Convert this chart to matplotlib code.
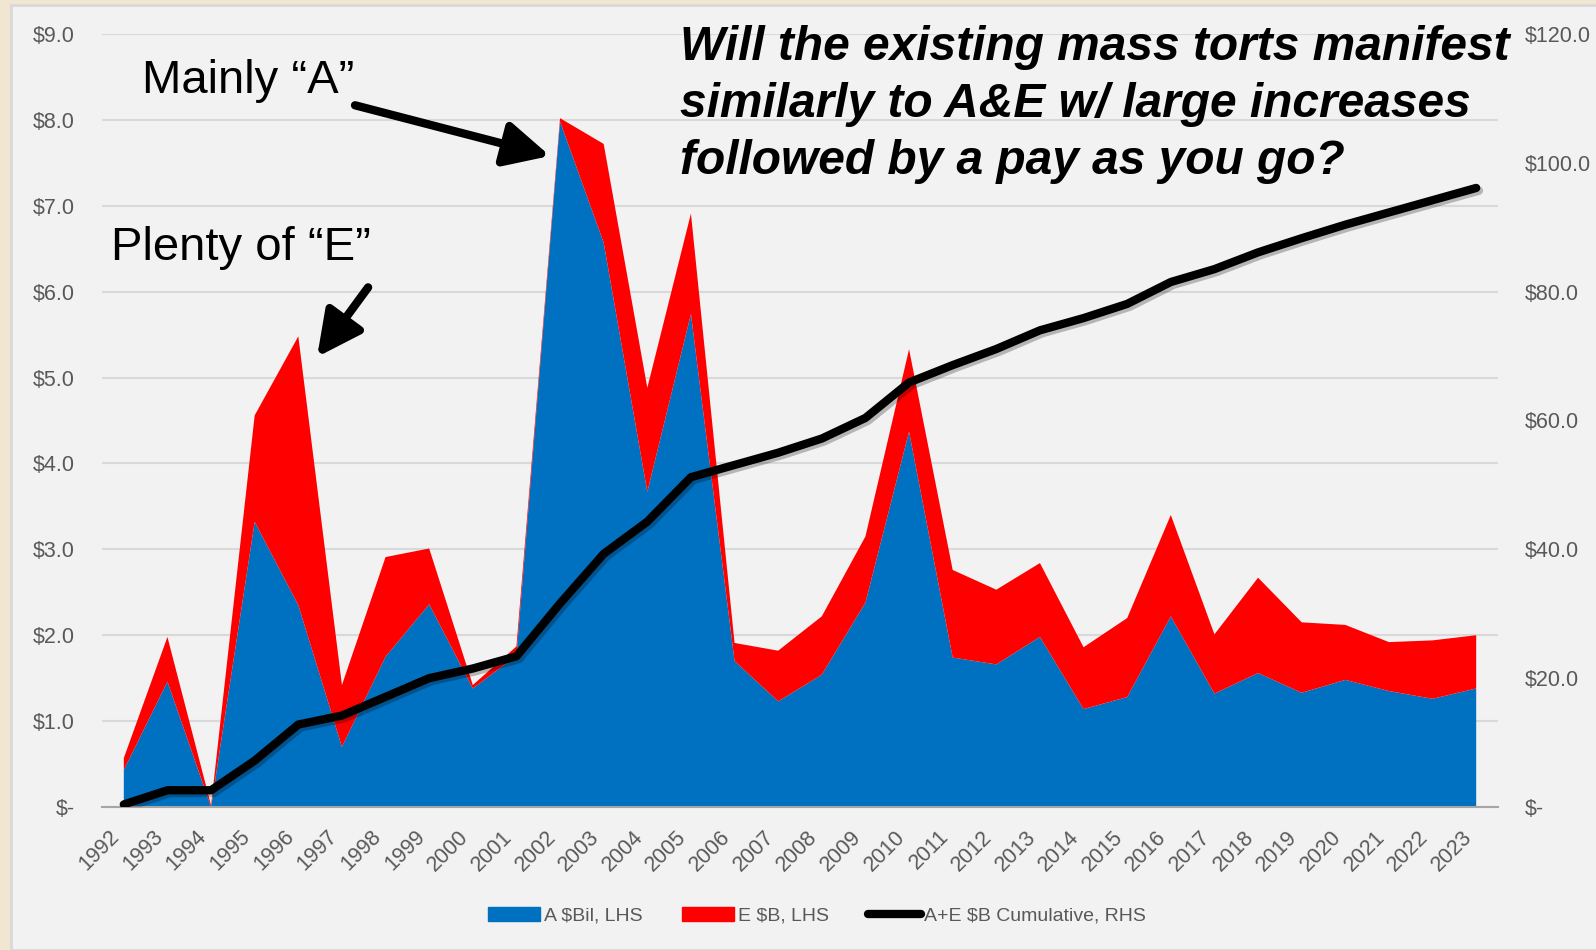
import numpy as np
import matplotlib
matplotlib.use("Agg")
import matplotlib.pyplot as plt
import matplotlib.patheffects as pe
from matplotlib.patches import Patch, Rectangle
from matplotlib.lines import Line2D
from matplotlib.ticker import FuncFormatter, MultipleLocator

plt.rcParams['font.family'] = ['Liberation Sans', 'DejaVu Sans']

years = [str(y) for y in range(1992, 2024)]
a_vals = [0.43, 1.46, 0.00, 3.32, 2.35, 0.70, 1.75, 2.36, 1.38, 1.76,
          7.98, 6.57, 3.67, 5.74, 1.70, 1.23, 1.54, 2.38, 4.37, 1.74,
          1.66, 1.98, 1.14, 1.28, 2.22, 1.32, 1.56, 1.33, 1.48, 1.35,
          1.26, 1.38]
e_vals = [0.14, 0.52, 0.02, 1.24, 3.13, 0.72, 1.16, 0.65, 0.04, 0.11,
          0.04, 1.15, 1.21, 1.17, 0.21, 0.59, 0.68, 0.77, 0.96, 1.02,
          0.87, 0.86, 0.72, 0.92, 1.18, 0.69, 1.11, 0.82, 0.64, 0.57,
          0.68, 0.62]
cumulative = [0.4, 2.6, 2.6, 7.2, 12.8, 14.2, 17.1, 20.0, 21.5, 23.4,
              31.6, 39.3, 44.3, 51.2, 53.1, 55.0, 57.2, 60.4, 65.9, 68.6,
              71.1, 74.0, 75.9, 78.1, 81.5, 83.5, 86.1, 88.3, 90.4, 92.3,
              94.2, 96.1]

blue = '#0070C0'
red = '#FF0000'
gray_txt = '#595959'

fig = plt.figure(figsize=(15.96, 9.5), dpi=100, facecolor='#F0E6D2')
fig.add_artist(Rectangle((11 / 1596, 0), 1, 1 - 5 / 950, transform=fig.transFigure,
                         facecolor='#F2F2F2', edgecolor='#D9D9D9', lw=2, zorder=-10))

ax = fig.add_axes([102 / 1596, 1 - 807 / 950, 1396 / 1596, 773 / 950])
ax.set_facecolor('none')
x = np.arange(len(years))

ax.stackplot(x, a_vals, e_vals, colors=[blue, red], linewidth=0)
ax.set_xlim(-0.5, len(years) - 0.5)
ax.set_ylim(0, 9)
ax.yaxis.set_major_locator(MultipleLocator(1))
ax.yaxis.set_major_formatter(FuncFormatter(lambda v, p: '$-' if v == 0 else f'${v:.1f}'))
ax.grid(axis='y', color='#D9D9D9', lw=1.5)
ax.set_axisbelow(True)
for s in ['top', 'left', 'right']:
    ax.spines[s].set_visible(False)
ax.spines['bottom'].set_color('#A6A6A6')
ax.spines['bottom'].set_linewidth(1.5)
ax.tick_params(axis='y', length=0, pad=19.5, labelsize=15.5, labelcolor=gray_txt)
ax.set_xticks(x)
ax.set_xticklabels(years, rotation=45, ha='right', va='top', rotation_mode='default')
ax.tick_params(axis='x', length=0, pad=14, labelsize=15.5, labelcolor=gray_txt)

ax2 = ax.twinx()
ax2.plot(x, cumulative, color='black', lw=6, solid_capstyle='round', solid_joinstyle='round',
         path_effects=[pe.SimpleLineShadow(offset=(2, -2), alpha=0.25), pe.Normal()])
ax2.set_ylim(0, 120)
ax2.yaxis.set_major_locator(MultipleLocator(20))
ax2.yaxis.set_major_formatter(FuncFormatter(lambda v, p: '$-' if v == 0 else f'${v:.1f}'))
ax2.tick_params(axis='y', length=0, pad=19.5, labelsize=15.5, labelcolor=gray_txt)
for s in ax2.spines.values():
    s.set_visible(False)

# annotations
arrow = dict(arrowstyle='-|>,head_length=0.9,head_width=0.45', lw=6, color='black',
             mutation_scale=30, shrinkA=0, shrinkB=0)
ax.text(2.84, 8.45, 'Mainly \u201cA\u201d', fontsize=34, ha='center', va='center')
ax.annotate('', xy=(9.77, 7.58), xytext=(5.30, 8.17), arrowprops=arrow)
ax.text(2.68, 6.51, 'Plenty of \u201cE\u201d', fontsize=34, ha='center', va='center')
ax.annotate('', xy=(4.43, 5.24), xytext=(5.60, 6.05), arrowprops=arrow)

fig.text(680 / 1596, 1 - 25 / 950,
         'Will the existing mass torts manifest\nsimilarly to A&E w/ large increases\nfollowed by a pay as you go?',
         fontsize=34.5, fontweight='bold', fontstyle='italic', ha='left', va='top',
         linespacing=1.35)

handles = [Patch(color=blue), Patch(color=red),
           Line2D([0], [0], color='black', lw=6, solid_capstyle='round')]
fig.legend(handles, ['A $Bil, LHS', 'E $B, LHS', 'A+E $B Cumulative, RHS'],
           loc='center', bbox_to_anchor=(0.512, 34 / 950), ncol=3, frameon=False,
           handlelength=2.7, handletextpad=0.2, columnspacing=2.0,
           prop={'family': ['Liberation Sans Narrow', 'Liberation Sans'], 'size': 14},
           labelcolor=gray_txt)

fig.savefig('out.png', dpi=100, facecolor=fig.get_facecolor())
